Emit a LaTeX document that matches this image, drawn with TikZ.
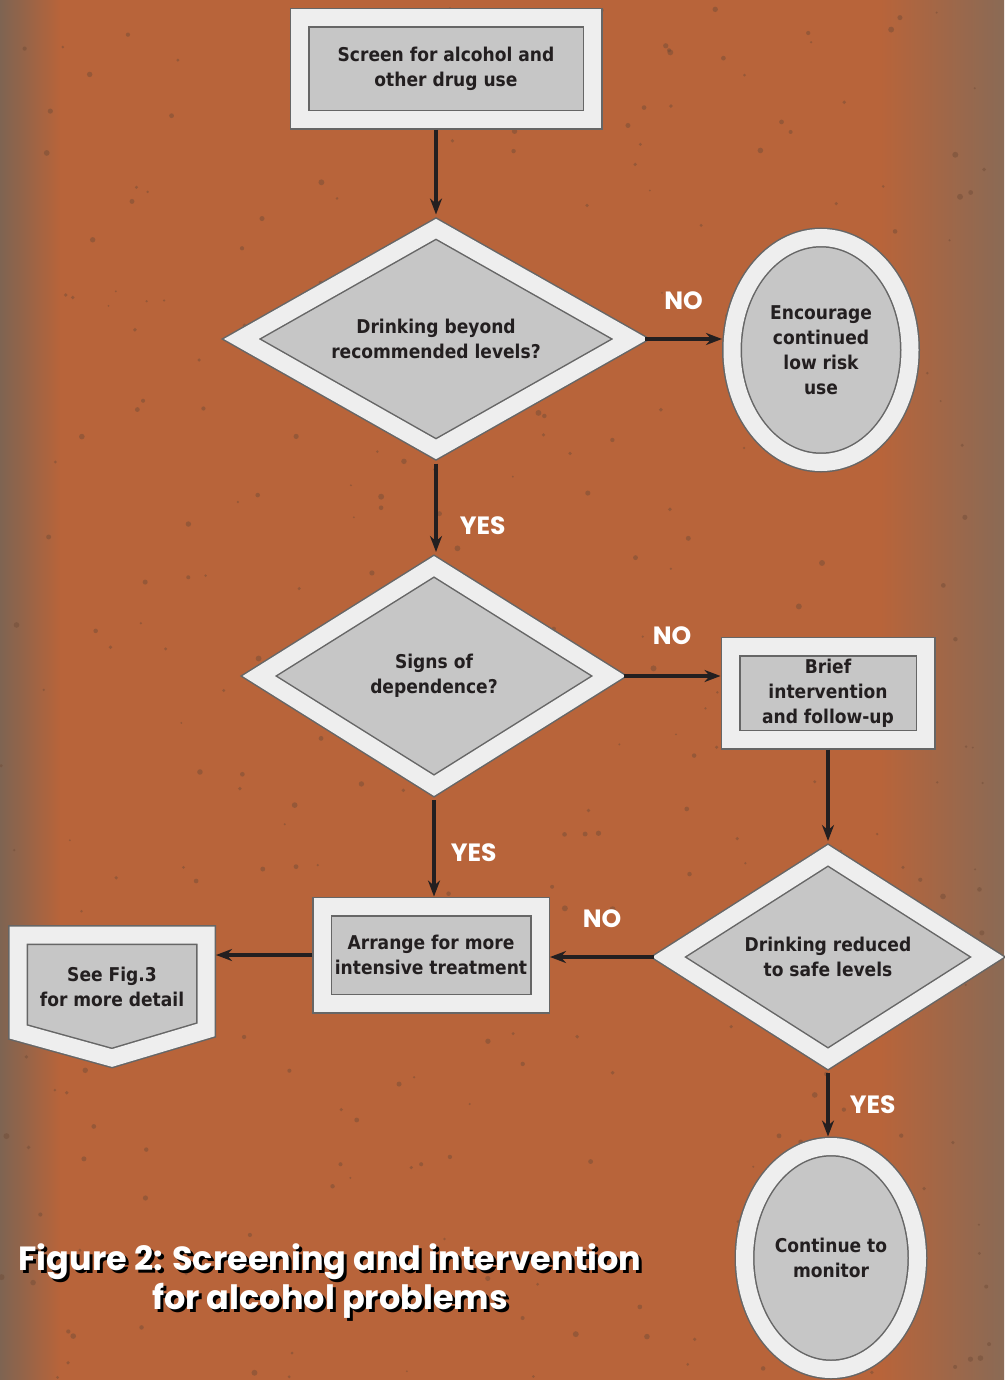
\documentclass[tikz,border=0pt]{standalone}
\usepackage{fontspec}
\usetikzlibrary{shapes.geometric,arrows.meta}

\newfontfamily\boxfont{DejaVu Sans Condensed Bold}
\newfontfamily\labelfont{Poppins Bold}

\definecolor{bgorange}{HTML}{B8643A}
\definecolor{bgbrownL}{HTML}{7E6452}
\definecolor{bgbrownR}{HTML}{8A6A55}
\definecolor{speck}{HTML}{6E4A36}
\definecolor{panelgrey}{HTML}{C6C6C6}
\definecolor{bandwhite}{HTML}{EEEEEE}
\definecolor{rimgrey}{HTML}{666666}
\definecolor{inkdark}{HTML}{231F20}

\begin{document}
\begin{tikzpicture}[x=1pt,y=-1pt,
  rim/.style={draw=rimgrey, line width=1.5pt, double=bandwhite, double distance=17pt, fill=panelgrey},
  panel/.style={rim, inner sep=0pt, outer sep=10pt, align=center, text=inkdark,
    font=\boxfont\fontsize{19}{25}\selectfont},
  box/.style={panel, rectangle},
  query/.style={panel, diamond, aspect=1.75},
  oval/.style={panel, ellipse},
  answer/.style={text=white, inner sep=0pt, font=\labelfont\fontsize{25}{30}\selectfont},
  titletext/.style={align=center, text=white, font=\labelfont\fontsize{33.5}{39}\selectfont},
  flow/.style={draw=inkdark, line width=3.5pt, ->},
  >={Stealth[length=16pt,width=12pt]}]
\path [use as bounding box] (0,0) rectangle (1004,1380);
% background
\fill [bgorange] (0,0) rectangle (1004,1380);
\shade [left color=bgbrownL, right color=bgorange] (0,0) rectangle (60,1380);
\shade [left color=bgorange, right color=bgbrownR] (880,0) rectangle (1004,1380);
\pgfmathsetseed{42}
\foreach \k in {1,...,320}
  \fill [speck, opacity=.45] ({1004*rnd},{1380*rnd}) circle ({1+2*rnd});

% boxes
\node (screen) [box, minimum width=293pt, minimum height=102pt] at (446,69) {Screen for alcohol and\\other drug use};
\node (beyond) [query, minimum width=398pt, minimum height=229pt] at (436,339) {Drinking beyond\\recommended levels?};
\node (lowrisk) [oval, minimum width=178pt, minimum height=225pt] at (821,350) {Encourage\\continued\\low risk\\use};
\node (depend) [query, minimum width=359pt, minimum height=228pt] at (434,676) {Signs of\\dependence?};
\node (brief) [box, minimum width=195pt, minimum height=93pt] at (828,693) {Brief\\intervention\\and follow-up};
\node (reduced) [query, minimum width=328pt, minimum height=212pt] at (828,957) {Drinking reduced\\to safe levels};
\node (intensive) [box, minimum width=218pt, minimum height=97pt] at (431,955) {Arrange for more\\intensive treatment};
\node (monitor) [oval, minimum width=173pt, minimum height=223pt] at (831,1258) {Continue to\\monitor};
\path [rim] (18,935) -- (206,935) -- (206,1030) -- (112,1058) -- (18,1032) -- cycle;
\node (seefig) [panel, draw=none, fill=none] at (112,987) {See Fig.3\\for more detail};
\coordinate (seefigedge) at (216,955);

% connectors
\path [flow] (screen.south -| beyond.north) -- (beyond.north);
\path [flow] (beyond.east) -- node (no1) [answer, above=28pt] {NO} (lowrisk.west |- beyond.east);
\path [flow] (beyond.south) -- node (yes1) [answer, pos=.7, right=22pt] {YES} (beyond.south |- depend.north);
\path [flow] (depend.east) -- node (no2) [answer, above=30pt] {NO} (brief.west |- depend.east);
\path [flow] (brief.south -| reduced.north) -- (reduced.north);
\path [flow] (reduced.west) -- node (no3) [answer, above=28pt] {NO} (intensive.east |- reduced.west);
\path [flow] (depend.south) -- node (yes2) [answer, pos=.55, right=15pt] {YES} (depend.south |- intensive.north);
\path [flow] (intensive.west) -- (seefigedge);
\path [flow] (reduced.south) -- node (yes3) [answer, pos=.5, right=20pt] {YES} (reduced.south |- monitor.north);

% caption
\node (titleshade) [titletext, text=black] at (333,1284) {Figure 2: Screening and intervention\\for alcohol problems};
\node (title) [titletext] at (330,1281) {Figure 2: Screening and intervention\\for alcohol problems};
\end{tikzpicture}
\end{document}
